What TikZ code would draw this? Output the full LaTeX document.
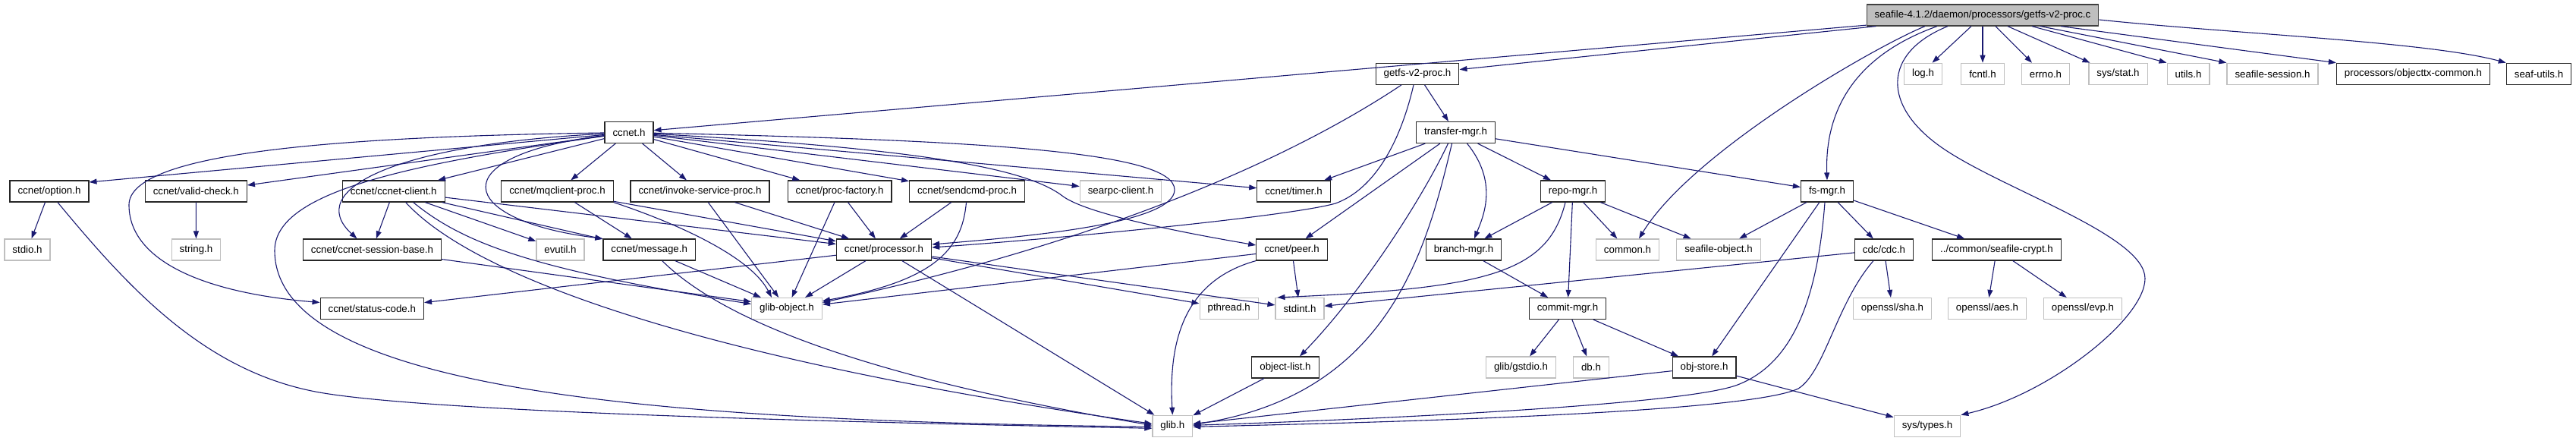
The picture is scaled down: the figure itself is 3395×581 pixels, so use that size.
\documentclass[tikz,border=0pt]{standalone}
\usepackage{fontspec}
\setmainfont{Liberation Sans}
\usetikzlibrary{arrows.meta}
\definecolor{edgec}{HTML}{191970}
\definecolor{extc}{HTML}{BFBFBF}
\definecolor{rootc}{HTML}{BFBFBF}
\begin{document}
\begin{tikzpicture}[x=1pt,y=-1pt,
  font=\fontsize{13.3}{15}\selectfont,
  box/.style={rectangle,minimum height=28pt,inner xsep=10.5pt,inner ysep=0pt,line width=1.2pt,fill=white},
  doc/.style={box,draw=black!85},
  ext/.style={box,draw=extc},
  rootbox/.style={box,draw=black!75,fill=rootc},
  dep/.style={draw=edgec,line width=1.1pt,-{Triangle[length=10pt,width=7pt]}}]
\useasboundingbox (0,0) rectangle (3395,581);
% row 0
\node[rootbox] (r) at (2613,20) {seafile-4.1.2/daemon/processors/getfs-v2-proc.c};
% row 1
\node[doc] (g) at (1868,97.3) {getfs-v2-proc.h};
\node[ext] (logh) at (2534.5,97.3) {log.h};
\node[ext] (fcntl) at (2613,97.3) {fcntl.h};
\node[ext] (errno) at (2696,97.3) {errno.h};
\node[ext] (sysstat) at (2791.5,97.3) {sys/stat.h};
\node[ext] (utils) at (2884,97.3) {utils.h};
\node[ext] (sess) at (2995,97.3) {seafile-session.h};
\node[doc] (objtx) at (3180.5,97.3) {processors/objecttx-common.h};
\node[doc] (seafu) at (3346,97.3) {seaf-utils.h};
% row 2
\node[doc] (c) at (829,174.5) {ccnet.h};
\node[doc] (t) at (1918.5,174.5) {transfer-mgr.h};
% row 3
\node[doc] (opt) at (65,252) {ccnet/option.h};
\node[doc] (vc) at (258.3,252) {ccnet/valid-check.h};
\node[doc] (cc) at (518.7,252) {ccnet/ccnet-client.h};
\node[doc] (mq) at (734.5,252) {ccnet/mqclient-proc.h};
\node[doc] (inv) at (922.5,252) {ccnet/invoke-service-proc.h};
\node[doc] (pf) at (1106.5,252) {ccnet/proc-factory.h};
\node[doc] (sc) at (1274.5,252) {ccnet/sendcmd-proc.h};
\node[ext] (searpc) at (1477,252) {searpc-client.h};
\node[doc] (timer) at (1705,252) {ccnet/timer.h};
\node[doc] (rm) at (2073,252) {repo-mgr.h};
\node[doc] (fs) at (2408,252) {fs-mgr.h};
% row 4
\node[ext] (stdio) at (36,329) {stdio.h};
\node[ext] (str) at (258.5,329) {string.h};
\node[doc] (sb) at (490.5,329) {ccnet/ccnet-session-base.h};
\node[ext] (evu) at (738.5,329) {evutil.h};
\node[doc] (msg) at (855.7,329) {ccnet/message.h};
\node[doc] (pr) at (1165,329) {ccnet/processor.h};
\node[doc] (pe) at (1702.5,329) {ccnet/peer.h};
\node[doc] (bm) at (1929,329) {branch-mgr.h};
\node[ext] (common) at (2145,329) {common.h};
\node[ext] (sobj) at (2265,329) {seafile-object.h};
\node[doc] (cdc) at (2483,329) {cdc/cdc.h};
\node[doc] (crypt) at (2631.5,329) {../common/seafile-crypt.h};
% row 5
\node[doc] (status) at (490.3,406.5) {ccnet/status-code.h};
\node[ext] (gobj) at (1037,406.5) {glib-object.h};
\node[ext] (pth) at (1619.7,406.5) {pthread.h};
\node[ext] (stdint) at (1713,406.5) {stdint.h};
\node[doc] (cm) at (2066,406.5) {commit-mgr.h};
\node[ext] (sha) at (2494,406.5) {openssl/sha.h};
\node[ext] (aes) at (2619,406.5) {openssl/aes.h};
\node[ext] (evp) at (2745,406.5) {openssl/evp.h};
% row 6
\node[doc] (ol) at (1694,484) {object-list.h};
\node[ext] (gstdio) at (2004.5,484) {glib/gstdio.h};
\node[ext] (db) at (2097,484) {db.h};
\node[doc] (os) at (2246,484) {obj-store.h};
% row 7
\node[ext] (glib) at (1545.3,561.3) {glib.h};
\node[ext] (systypes) at (2540,561.3) {sys/types.h};

% ---- edges from root
\draw[dep] (r) -- (c);
\draw[dep] (r) -- (g);
\draw[dep] ([xshift=-76pt]r.south) .. controls (2470,62) and (2230,200) .. ([xshift=15pt]common.north);
\draw[dep] ([xshift=-60pt]r.south) .. controls (2440,75) and (2405,150) .. (fs.north);
\draw[dep] ([xshift=-15pt]r.south) -- ([xshift=12pt]logh.north);
\draw[dep] (r.south) -- (fcntl.north);
\draw[dep] ([xshift=17pt]r.south) -- ([xshift=-18pt]errno.north);
\draw[dep] ([xshift=33pt]r.south) -- ([xshift=-37pt]sysstat.north);
\draw[dep] ([xshift=65pt]r.south) -- (utils.north west);
\draw[dep] ([xshift=76pt]r.south) -- (sess.north west);
\draw[dep] ([xshift=103pt]r.south) -- (objtx.north west);
\draw[dep] ([yshift=-6pt]r.east) .. controls (2950,45) and (3200,55) .. (seafu.north west);
\draw[dep] ([xshift=-46pt]r.south) .. controls (2480,70) and (2480,140) .. (2560,195)
   .. controls (2640,250) and (2827,310) .. (2827,367)
   .. controls (2827,420) and (2700,520) .. (systypes.north east);
% ---- getfs-v2-proc.h
\draw[dep] (g) -- (t);
\draw[dep] ([xshift=-5pt]g.south) .. controls (1845,190) and (1810,250) .. (1760,268)
   .. controls (1700,285) and (1400,314) .. ([yshift=3pt]pr.east);
\draw[dep] ([xshift=-21pt]g.south) .. controls (1700,210) and (1450,320) .. ([yshift=8pt]gobj.east);
% ---- transfer-mgr.h
\draw[dep] (t) -- (timer);
\draw[dep] (t) -- ([xshift=18pt]pe.north);
\draw[dep] ([xshift=-10pt]t.south) .. controls (1870,270) and (1790,390) .. ([xshift=19pt]ol.north);
\draw[dep] ([xshift=-5pt]t.south) .. controls (1880,330) and (1830,520) .. ([yshift=2pt]glib.east);
\draw[dep] ([xshift=15pt]t.south) .. controls (1975,240) and (1955,285) .. ([xshift=14pt]bm.north);
\draw[dep] (t) -- (rm);
\draw[dep] (t) -- (fs);
% ---- ccnet.h
\draw[dep] (c) -- ([yshift=12pt]opt.east);
\draw[dep] (c) -- ([yshift=8pt]vc.east);
\draw[dep] (c) -- (cc);
\draw[dep] (c) .. controls (580,205) and (600,290) .. (msg.north west);
\draw[dep] (c) .. controls (520,190) and (400,250) .. ([xshift=-20pt]sb.north);
\draw[dep] (c) .. controls (450,180) and (170,200) .. (170,270)
   .. controls (170,340) and (260,385) .. ([yshift=8pt]status.west);
\draw[dep] (c) .. controls (550,215) and (362,250) .. (362,330)
   .. controls (362,520) and (900,555) .. ([yshift=-1pt]glib.west);
\draw[dep] (c) -- (mq);
\draw[dep] (c) -- (inv);
\draw[dep] (c) -- (pf);
\draw[dep] (c) -- (sc);
\draw[dep] (c) -- (searpc);
\draw[dep] (c) -- (timer);
\draw[dep] (c) .. controls (1200,195) and (1350,220) .. (1400,258)
   .. controls (1430,281) and (1550,305) .. ([yshift=6pt]pe.west);
\draw[dep] (c) .. controls (1300,185) and (1548,200) .. (1548,250)
   .. controls (1548,295) and (1350,312) .. ([yshift=7pt]pr.east);
% ---- ccnet/option.h, valid-check.h
\draw[dep] (opt) -- (stdio);
\draw[dep] ([xshift=11pt]opt.south) .. controls (170,380) and (270,490) .. (421,517)
   .. controls (570,543) and (1100,556) .. ([yshift=-3pt]glib.west);
\draw[dep] (vc) -- (str);
% ---- ccnet/ccnet-client.h
\draw[dep] (cc) -- (sb);
\draw[dep] (cc) -- (evu);
\draw[dep] (cc) -- (msg);
\draw[dep] (cc) -- (pr);
\draw[dep] ([xshift=26pt]cc.south) .. controls (610,320) and (700,355) .. ([yshift=6pt]gobj.west);
\draw[dep] ([xshift=16pt]cc.south) .. controls (620,360) and (900,470) .. ([yshift=3pt]glib.west);
% ---- mqclient, invoke, proc-factory, sendcmd
\draw[dep] (mq) -- (msg);
\draw[dep] (mq) -- (pr);
\draw[dep] (mq.south east) .. controls (900,297) and (990,340) .. ([xshift=-20pt]gobj.north);
\draw[dep] (inv) -- (pr);
\draw[dep] (inv) -- (gobj);
\draw[dep] (pf) -- (pr);
\draw[dep] (pf) -- (gobj);
\draw[dep] (sc) -- (pr);
\draw[dep] ([xshift=-1pt]sc.south) .. controls (1268,330) and (1230,370) .. ([yshift=10pt]gobj.east);
% ---- session-base, message
\draw[dep] (sb) -- ([yshift=9pt]gobj.west);
\draw[dep] (msg) -- (gobj);
\draw[dep] ([xshift=17pt]msg.south) .. controls (940,410) and (1100,490) .. ([yshift=1pt]glib.west);
% ---- processor.h
\draw[dep] (pr) -- (status);
\draw[dep] (pr) -- (gobj);
\draw[dep] (pr) -- (glib);
\draw[dep] (pr) -- (pth);
\draw[dep] (pr) -- (stdint);
% ---- peer.h, object-list.h
\draw[dep] (pe) -- (stdint);
\draw[dep] (pe) -- (gobj);
\draw[dep] (pe.south west) .. controls (1560,370) and (1540,450) .. (glib.north);
\draw[dep] (ol) -- (glib);
% ---- repo-mgr.h, branch-mgr.h, commit-mgr.h
\draw[dep] (rm) -- (bm);
\draw[dep] ([xshift=-10pt]rm.south) .. controls (2040,360) and (1960,380) .. ([xshift=3pt]stdint.north west);
\draw[dep] (rm) -- (cm);
\draw[dep] (rm) -- (common);
\draw[dep] (rm) -- (sobj);
\draw[dep] (bm) -- (cm);
\draw[dep] (cm) -- (gstdio);
\draw[dep] (cm) -- (db);
\draw[dep] (cm) -- (os);
% ---- fs-mgr.h
\draw[dep] (fs) -- (sobj);
\draw[dep] (fs) -- (cdc);
\draw[dep] (fs) -- (crypt);
\draw[dep] (fs) -- (os);
\draw[dep] ([xshift=-3pt]fs.south) .. controls (2395,400) and (2360,480) .. (2290,507)
   .. controls (2220,534) and (1800,553) .. ([yshift=1pt]glib.east);
% ---- cdc, crypt, obj-store
\draw[dep] (cdc) -- (sha);
\draw[dep] (cdc) -- (stdint);
\draw[dep] ([xshift=-14pt]cdc.south) .. controls (2420,400) and (2405,490) .. (2370,512)
   .. controls (2300,545) and (1800,557) .. ([yshift=-1pt]glib.east);
\draw[dep] (crypt) -- (aes);
\draw[dep] (crypt) -- (evp);
\draw[dep] (os) -- (glib);
\draw[dep] (os) -- (systypes);
\end{tikzpicture}
\end{document}
